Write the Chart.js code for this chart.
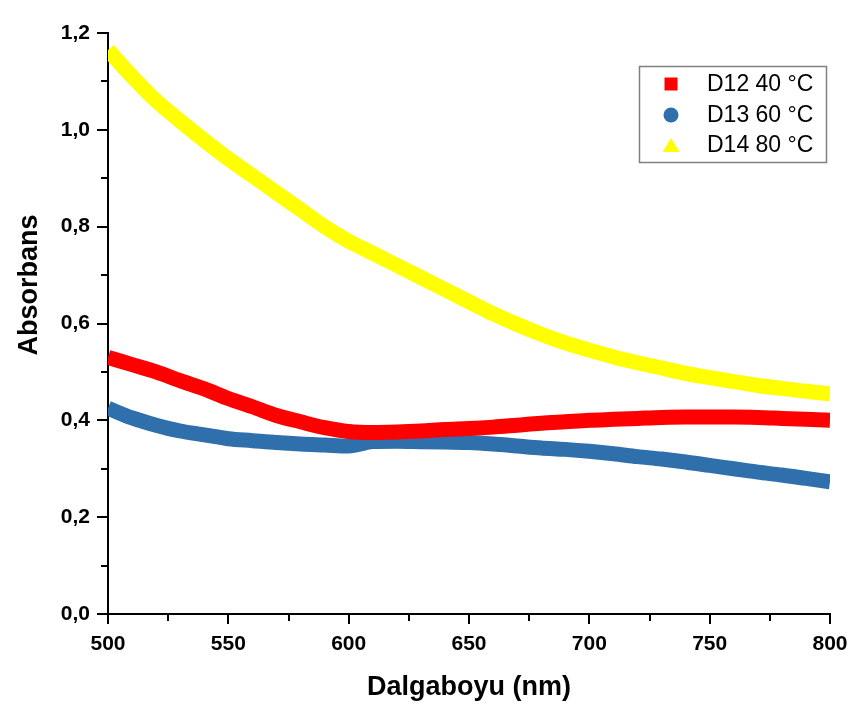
<!DOCTYPE html>
<html>
<head>
<meta charset="utf-8">
<script src="https://cdn.jsdelivr.net/npm/chart.js@4"></script>
<style>
  html, body { margin: 0; padding: 0; background: #fff; }
  #wrap { width: 861px; height: 713px; }
</style>
</head>
<body>
<div id="wrap"><canvas id="absChart" width="861" height="713"></canvas></div>
<script>
const wavelengths = [500, 510, 520, 530, 540, 550, 560, 570, 580, 590, 600, 610, 620, 630, 640, 650,
    660, 670, 680, 690, 700, 710, 720, 730, 740, 750, 760, 770, 780, 790, 800];
const d12 = [0.530, 0.515, 0.500, 0.482, 0.465, 0.445, 0.428, 0.410, 0.397, 0.385, 0.377, 0.375, 0.376,
    0.378, 0.381, 0.383, 0.386, 0.390, 0.394, 0.397, 0.400, 0.402, 0.404, 0.406, 0.407, 0.407, 0.407,
    0.406, 0.404, 0.402, 0.400];
const d13 = [0.425, 0.405, 0.390, 0.378, 0.370, 0.362, 0.358, 0.354, 0.351, 0.349, 0.347, 0.356, 0.357,
    0.356, 0.355, 0.354, 0.351, 0.347, 0.343, 0.340, 0.336, 0.331, 0.325, 0.320, 0.314, 0.307, 0.300,
    0.293, 0.287, 0.280, 0.273];
const d14 = [1.165, 1.110, 1.060, 1.018, 0.978, 0.940, 0.905, 0.870, 0.835, 0.800, 0.770, 0.745, 0.720,
    0.695, 0.670, 0.645, 0.620, 0.598, 0.578, 0.560, 0.545, 0.531, 0.519, 0.508, 0.497, 0.488, 0.480,
    0.472, 0.466, 0.460, 0.455];
const seriesLabels = ['D12 40 \u00B0C', 'D13 60 \u00B0C', 'D14 80 \u00B0C'];
const seriesColors = ['#ff0000', '#2f6fab', '#ffff00'];
const markerStyles = ['rect', 'circle', 'triangle'];
const yTicks = [0, 0.2, 0.4, 0.6, 0.8, 1.0, 1.2];
const xTicks = [500, 550, 600, 650, 700, 750, 800];

const FONT = '"Liberation Sans", Arial, sans-serif';

function toPoints(ys) {
    return wavelengths.map(function (w, i) { return { x: w, y: ys[i] }; });
}

// minor/major tick marks drawn outward on both axes, plus the y title
const tickMarks = {
    id: 'tickMarks',
    afterDraw: function (chart) {
        const ctx = chart.ctx;
        const xs = chart.scales.x, ys = chart.scales.y;
        const left = chart.chartArea.left, bottom = chart.chartArea.bottom;
        ctx.save();
        ctx.strokeStyle = '#000';
        ctx.lineWidth = 2;
        for (let v = 0; v <= 1.2001; v += 0.1) {
            const py = Math.round(ys.getPixelForValue(v));
            const major = Math.abs(v / 0.2 - Math.round(v / 0.2)) < 0.01;
            ctx.beginPath();
            ctx.moveTo(left, py);
            ctx.lineTo(left - (major ? 11 : 7), py);
            ctx.stroke();
        }
        for (let w = 500; w <= 800; w += 25) {
            const px = Math.round(xs.getPixelForValue(w));
            const major = w % 50 === 0;
            ctx.beginPath();
            ctx.moveTo(px, bottom);
            ctx.lineTo(px, bottom + (major ? 10 : 7));
            ctx.stroke();
        }
        // y axis title sits a bit above the middle in the original
        ctx.translate(28, 285);
        ctx.rotate(-Math.PI / 2);
        ctx.fillStyle = '#000';
        ctx.font = 'bold 27px ' + FONT;
        ctx.textAlign = 'center';
        ctx.textBaseline = 'middle';
        ctx.fillText('Absorbans', 0, 2);
        ctx.restore();
    }
};

// legend box inside the plot, top right
const boxLegend = {
    id: 'boxLegend',
    afterDraw: function (chart) {
        const ctx = chart.ctx;
        ctx.save();
        ctx.strokeStyle = '#808080';
        ctx.lineWidth = 1.5;
        ctx.strokeRect(639.5, 66.5, 187, 96);
        ctx.font = '23px ' + FONT;
        ctx.textBaseline = 'middle';
        const rows = [84, 115, 145];
        for (let i = 0; i < seriesLabels.length; i++) {
            const cy = rows[i], cx = 671;
            ctx.fillStyle = seriesColors[i];
            ctx.beginPath();
            if (markerStyles[i] === 'rect') {
                ctx.rect(cx - 6.5, cy - 6.5, 13, 13);
            } else if (markerStyles[i] === 'circle') {
                ctx.arc(cx, cy, 7.5, 0, Math.PI * 2);
            } else {
                ctx.moveTo(cx, cy - 7);
                ctx.lineTo(cx + 8.5, cy + 7);
                ctx.lineTo(cx - 8.5, cy + 7);
                ctx.closePath();
            }
            ctx.fill();
            ctx.fillStyle = '#000';
            ctx.fillText(seriesLabels[i], 707, cy + 1);
        }
        ctx.restore();
    }
};

new Chart(document.getElementById('absChart').getContext('2d'), {
    type: 'line',
    data: {
        datasets: [d12, d13, d14].map(function (ys, i) {
            return {
                label: seriesLabels[i],
                data: toPoints(ys),
                borderColor: seriesColors[i],
                backgroundColor: seriesColors[i],
                borderWidth: 15,
                pointRadius: 0,
                cubicInterpolationMode: 'monotone',
                fill: false
            };
        })
    },
    options: {
        responsive: false,
        animation: false,
        layout: { padding: { top: 33, right: 31, left: 0, bottom: 0 } },
        plugins: {
            legend: { display: false },
            tooltip: { enabled: false }
        },
        scales: {
            x: {
                type: 'linear',
                min: 500,
                max: 800,
                afterBuildTicks: function (axis) {
                    axis.ticks = xTicks.map(function (v) { return { value: v }; });
                },
                afterFit: function (axis) { axis.height = 99; },
                grid: { display: false },
                border: { display: true, color: '#000', width: 2 },
                ticks: {
                    color: '#000',
                    padding: 10,
                    maxRotation: 0,
                    font: { family: FONT, size: 21, weight: 'bold' }
                },
                title: {
                    display: true,
                    text: 'Dalgaboyu (nm)',
                    color: '#000',
                    padding: { top: 10, bottom: 9 },
                    font: { family: FONT, size: 27, weight: 'bold' }
                }
            },
            y: {
                type: 'linear',
                min: 0,
                max: 1.2,
                afterBuildTicks: function (axis) {
                    axis.ticks = yTicks.map(function (v) { return { value: v }; });
                },
                afterFit: function (axis) { axis.width = 108; },
                grid: { display: false },
                border: { display: true, color: '#000', width: 2 },
                ticks: {
                    color: '#000',
                    padding: 10,
                    font: { family: FONT, size: 21, weight: 'bold' },
                    callback: function (v) { return v.toFixed(1).replace('.', ','); }
                },
                title: { display: false }
            }
        }
    },
    plugins: [tickMarks, boxLegend]
});
</script>
</body>
</html>
